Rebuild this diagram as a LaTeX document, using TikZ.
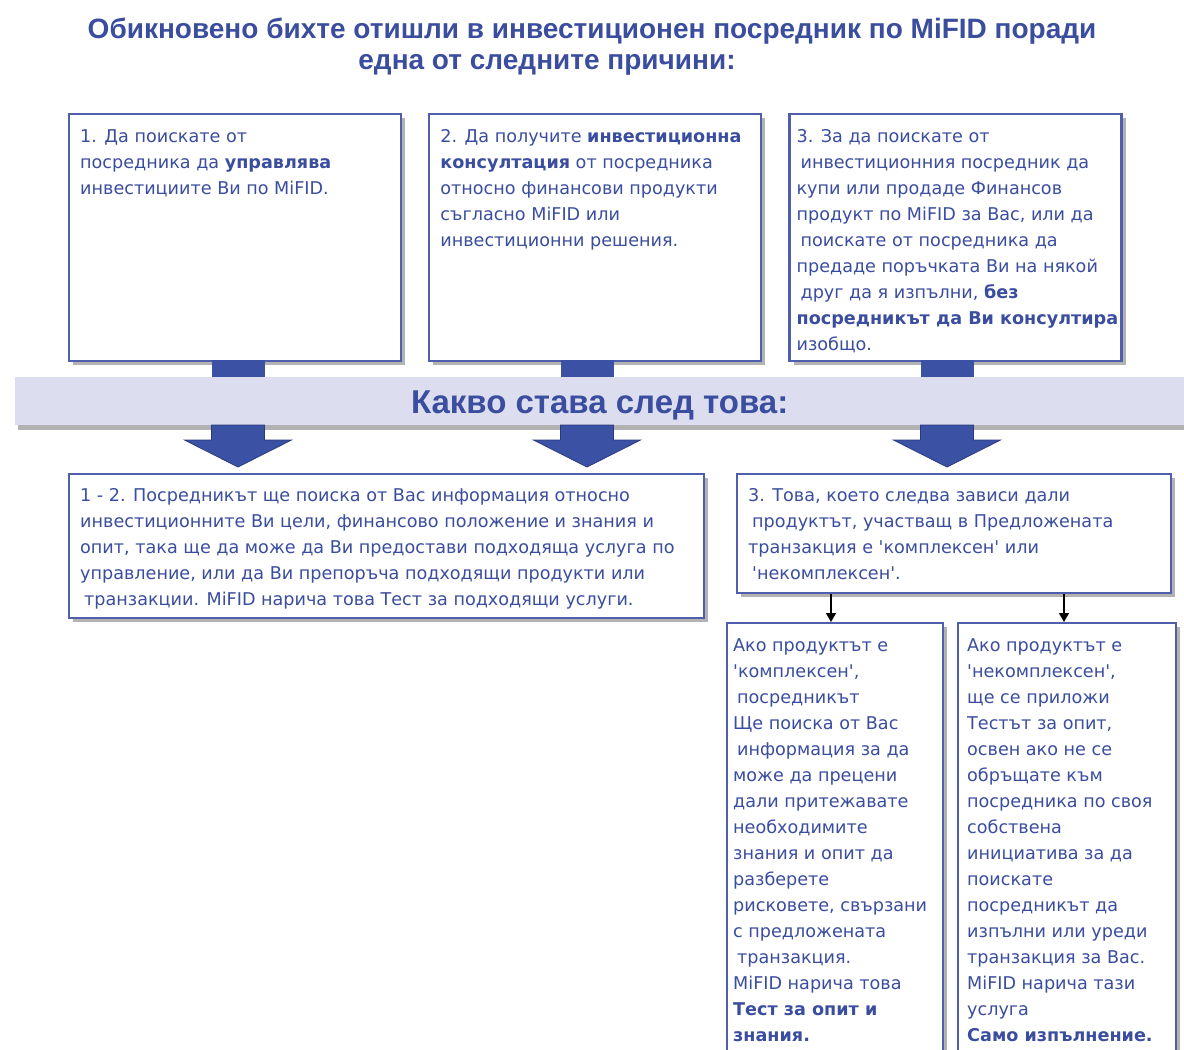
\documentclass[tikz,border=0pt]{standalone}
\usepackage{fontspec}
\setmainfont{DejaVu Sans}
\newfontfamily\headfont{Liberation Sans}
\usetikzlibrary{arrows.meta,positioning,shadows}
\definecolor{mifidblue}{HTML}{3A4D9E}
\definecolor{mifidline}{HTML}{4F5FAE}
\definecolor{bandfill}{HTML}{DCDEF0}
\definecolor{arrowfill}{HTML}{3B51A3}
\definecolor{arrowline}{HTML}{2B3A80}
\newcommand{\q}{\textquotesingle}

\begin{document}
\begin{tikzpicture}[x=1pt,y=-1pt,
    box/.style={draw=mifidline,line width=2.2pt,fill=white,anchor=north west,
        drop shadow={shadow xshift=4pt,shadow yshift=-4pt,fill=black,opacity=.3}},
    txt/.style={text=mifidblue,align=left,inner sep=0pt,font=\fontsize{17.6}{26}\selectfont},
    head/.style={text=mifidblue,font=\headfont\bfseries\fontsize{28}{34}\selectfont},
    arr/.style={-{Triangle[width=10pt,length=9pt]},line width=1.4pt}
]
\useasboundingbox (0,0) rectangle (1184,1050);
\clip (0,0) rectangle (1184,1050);

% heading
\node[head] (title) at (592,31)
    {Обикновено бихте отишли в инвестиционен посредник по MiFID поради};
\node[head] (subtitle) at (547,65)
    {една от следните причини:};

% the three reasons
\node[box,minimum width=332pt,minimum height=247pt] (reasonA) at (68,113) {};
\node[box,minimum width=332pt,minimum height=247pt,below right=0pt and 26pt of reasonA.north east] (reasonB) {};
\node[box,minimum width=332pt,minimum height=247pt,below right=0pt and 26pt of reasonB.north east] (reasonC) {};
\node[txt,below right=16pt and 12pt of reasonA.north west] (textA)
    {1. Да поискате от\\посредника да \textbf{управлява}\\инвестициите Ви по MiFID.};
\node[txt,below right=16pt and 12pt of reasonB.north west] (textB)
    {2. Да получите \textbf{инвестиционна}\\\textbf{консултация} от посредника\\относно финансови продукти\\съгласно MiFID или\\инвестиционни решения.};
\node[txt,below right=16pt and 8pt of reasonC.north west] (textC)
    {3. За да поискате от\\\hspace*{4pt}инвестиционния посредник да\\купи или продаде Финансов\\продукт по MiFID за Вас, или да\\\hspace*{4pt}поискате от посредника да\\предаде поръчката Ви на някой\\\hspace*{4pt}друг да я изпълни, \textbf{без}\\\textbf{посредникът да Ви консултира}\\изобщо.};

% stems into the band
\foreach \x in {238,587,947}
    \fill[arrowfill] (\x-26.5,360) rectangle (\x+26.5,378);

% band
\node[fill=bandfill,anchor=north west,minimum width=1169pt,minimum height=48pt,inner sep=0pt,
    drop shadow={shadow xshift=3pt,shadow yshift=-5pt,fill=black,opacity=.3},
    text=mifidblue,font=\headfont\bfseries\fontsize{33}{36}\selectfont] (band) at (15,377)
    {\raisebox{-12pt}[0pt][0pt]{Какво става след това:}};

% big arrows down
\foreach \x in {238,587,947}
    \filldraw[fill=arrowfill,draw=arrowline,line width=.8pt]
        (\x-26.5,425) -- (\x-26.5,440) -- (\x-53.5,440) -- (\x,467)
        -- (\x+53.5,440) -- (\x+26.5,440) -- (\x+26.5,425) -- cycle;

% what follows
\node[box,minimum width=635pt,minimum height=144pt] (followAB) at (68,473) {};
\node[box,minimum width=434pt,minimum height=119pt] (followC) at (736,473) {};
\node[txt,below right=15pt and 12pt of followAB.north west] (textAB)
    {1 - 2. Посредникът ще поиска от Вас информация относно\\инвестиционните Ви цели, финансово положение и знания и\\опит, така ще да може да Ви предостави подходяща услуга по\\управление, или да Ви препоръча подходящи продукти или\\\hspace*{4pt}транзакции. MiFID нарича това Тест за подходящи услуги.};
\node[txt,below right=15pt and 12pt of followC.north west] (textFC)
    {3. Това, което следва зависи дали\\\hspace*{4pt}продуктът, участващ в Предложената\\транзакция е \q комплексен\q{} или\\\hspace*{4pt}\q некомплексен\q.};

\node[box,minimum width=216pt,minimum height=460pt] (complex) at (726,622) {};
\node[box,minimum width=218pt,minimum height=460pt] (noncomplex) at (957,622) {};
\node[txt,below right=16pt and 7pt of complex.north west] (textCx)
    {Ако продуктът е\\\q комплексен\q,\\\hspace*{4pt}посредникът\\Ще поиска от Вас\\\hspace*{4pt}информация за да\\може да прецени\\дали притежавате\\необходимите\\знания и опит да\\разберете\\рисковете, свързани\\с предложената\\\hspace*{4pt}транзакция.\\MiFID нарича това\\\textbf{Тест за опит и}\\\textbf{знания.}};
\node[txt,below right=16pt and 10pt of noncomplex.north west] (textNx)
    {Ако продуктът е\\\q некомплексен\q,\\ще се приложи\\Тестът за опит,\\освен ако не се\\обръщате към\\посредника по своя\\собствена\\инициатива за да\\поискате\\посредникът да\\изпълни или уреди\\транзакция за Вас.\\MiFID нарича тази\\услуга\\\textbf{Само изпълнение.}};

\draw[arr] (followC.south -| 831,0) -- (complex.north -| 831,0);
\draw[arr] (followC.south -| 1064,0) -- (noncomplex.north -| 1064,0);
\end{tikzpicture}
\end{document}
